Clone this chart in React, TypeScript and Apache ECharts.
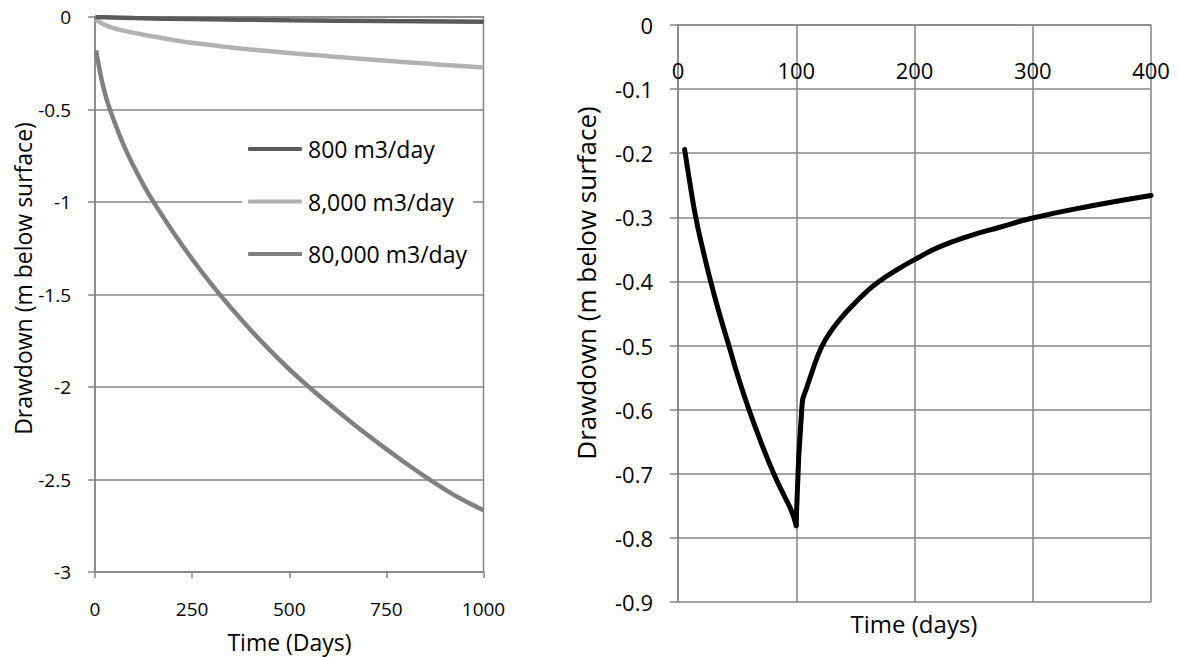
import React, { useEffect, useRef } from "react";
import * as echarts from "echarts";

// Left chart: drawdown vs time for three pumping rates
const leftSeriesNames = ["800 m3/day", "8,000 m3/day", "80,000 m3/day"];
const t800 = [1, 100, 250, 500, 750, 1000];
const d800 = [0, -0.006, -0.011, -0.017, -0.022, -0.026];
const t8000 = [1, 10, 20, 40, 60, 100, 150, 200, 270, 350, 500, 600, 700, 800, 900, 1000];
const d8000 = [-0.012, -0.025, -0.037, -0.055, -0.067, -0.086, -0.105, -0.124, -0.145, -0.165, -0.195, -0.212, -0.229, -0.244, -0.259, -0.273];
const t80000 = [3, 8, 13, 21, 30, 40, 50, 65, 80, 100, 125, 150, 200, 250, 300, 350, 400, 450, 500, 550, 600, 650, 700, 750, 800, 850, 900, 950, 1000];
const d80000 = [-0.18, -0.243, -0.298, -0.375, -0.445, -0.509, -0.567, -0.648, -0.722, -0.809, -0.909, -0.998, -1.159, -1.308, -1.445, -1.572, -1.69, -1.801, -1.904, -1.999, -2.088, -2.174, -2.257, -2.336, -2.412, -2.485, -2.553, -2.614, -2.666];

// Right chart: pumping for 100 days, then recovery
const tPumping = [5.6, 10, 15, 21, 27.6, 35, 43, 51, 60, 70, 81, 90, 96, 100];
const dPumping = [-0.194, -0.246, -0.3, -0.35, -0.4, -0.45, -0.5, -0.55, -0.6, -0.65, -0.7, -0.735, -0.758, -0.781];
const tRecovery = [100, 105, 109, 113, 117, 122, 130, 137, 150, 160, 170, 185, 200, 221, 250, 272, 300, 350, 400];
const dRecovery = [-0.781, -0.59, -0.565, -0.543, -0.522, -0.5, -0.476, -0.459, -0.433, -0.415, -0.4, -0.382, -0.366, -0.346, -0.327, -0.3155, -0.301, -0.282, -0.266];

const leftTitles = { x: "Time (Days)", y: "Drawdown (m below surface)" };
const rightTitles = { x: "Time (days)", y: "Drawdown (m below surface)" };

const pair = (xs: number[], ys: number[]) => xs.map((x, i) => [x, ys[i]]);

const GRAY = "#868686";
const FONT = "Open Sans";

export default function App() {
  const ref = useRef<HTMLDivElement>(null);
  useEffect(() => {
    if (!ref.current) return;
    const chart = echarts.init(ref.current, null, { renderer: "svg" });
    const lineColors = ["#5a5a5a", "#b2b2b2", "#808080"];
    const option: any = {
      animation: false,
      backgroundColor: "#fff",
      textStyle: { fontFamily: FONT, color: "#000" },
      grid: [
        { left: 95, top: 17, width: 388.5, height: 555, show: true, borderColor: GRAY, borderWidth: 1.5, backgroundColor: "transparent" },
        { left: 678, top: 25, width: 473, height: 577 },
      ],
      xAxis: [
        {
          gridIndex: 0, type: "value", min: 0, max: 1000, interval: 250,
          axisLine: { show: true, onZero: false, lineStyle: { color: GRAY, width: 1.5 } },
          axisTick: { show: true, length: 6, lineStyle: { color: GRAY, width: 1.5 } },
          axisLabel: { color: "#000", fontSize: 19, fontFamily: FONT, margin: 27, formatter: (v: number) => String(v) },
          splitLine: { show: false },
        },
        {
          gridIndex: 1, type: "value", min: 0, max: 400, interval: 100, position: "top",
          axisLine: { show: true, onZero: false, lineStyle: { color: GRAY, width: 1.5 } },
          axisTick: { show: false },
          axisLabel: { inside: true, color: "#000", fontSize: 22, fontFamily: FONT, margin: 34, formatter: (v: number) => String(v) },
          splitLine: { show: true, lineStyle: { color: GRAY, width: 1.5 } },
        },
      ],
      yAxis: [
        {
          gridIndex: 0, type: "value", min: -3, max: 0, interval: 0.5,
          axisLine: { show: true, onZero: false, lineStyle: { color: GRAY, width: 1.5 } },
          axisTick: { show: true, length: 7, lineStyle: { color: GRAY, width: 1.5 } },
          axisLabel: { color: "#000", fontSize: 19, fontFamily: FONT, margin: 24 },
          splitLine: { show: true, lineStyle: { color: GRAY, width: 1.5 } },
        },
        {
          gridIndex: 1, type: "value", min: -0.9, max: 0, interval: 0.1,
          axisLine: { show: true, onZero: false, lineStyle: { color: GRAY, width: 1.5 } },
          axisTick: { show: true, length: 8, lineStyle: { color: GRAY, width: 1.5 } },
          axisLabel: {
            color: "#000", fontSize: 22, fontFamily: FONT, margin: 25,
            formatter: (v: number) => (Math.abs(v) < 1e-9 ? "0" : v.toFixed(1)),
          },
          splitLine: { show: true, lineStyle: { color: GRAY, width: 1.5 } },
        },
      ],
      legend: {
        orient: "vertical",
        left: 242,
        top: 129,
        padding: 6,
        backgroundColor: "#fff",
        itemWidth: 54,
        itemHeight: 4,
        itemGap: 24.5,
        icon: "roundRect",
        selectedMode: false,
        data: leftSeriesNames,
        textStyle: { color: "#000", fontSize: 23, fontFamily: FONT, lineHeight: 28, padding: [0, 0, 0, 1] },
      },
      series: [
        {
          name: leftSeriesNames[2], type: "line", xAxisIndex: 0, yAxisIndex: 0,
          data: pair(t80000, d80000), showSymbol: false, smooth: 0.4,
          lineStyle: { color: lineColors[2], width: 4.5 }, itemStyle: { color: lineColors[2] }, z: 3,
        },
        {
          name: leftSeriesNames[1], type: "line", xAxisIndex: 0, yAxisIndex: 0,
          data: pair(t8000, d8000), showSymbol: false, smooth: 0.4,
          lineStyle: { color: lineColors[1], width: 4.5 }, itemStyle: { color: lineColors[1] }, z: 4,
        },
        {
          name: leftSeriesNames[0], type: "line", xAxisIndex: 0, yAxisIndex: 0,
          data: pair(t800, d800), showSymbol: false, smooth: 0.4,
          lineStyle: { color: lineColors[0], width: 4.5 }, itemStyle: { color: lineColors[0] }, z: 5,
        },
        {
          name: "Pumping", type: "line", xAxisIndex: 1, yAxisIndex: 1,
          data: pair(tPumping, dPumping), showSymbol: false, smooth: 0.5,
          lineStyle: { color: "#000", width: 5, cap: "round", join: "round" }, itemStyle: { color: "#000" }, z: 5,
        },
        {
          name: "Recovery", type: "line", xAxisIndex: 1, yAxisIndex: 1,
          data: pair(tRecovery, dRecovery), showSymbol: false, smooth: 0.5,
          lineStyle: { color: "#000", width: 5, cap: "round", join: "round" }, itemStyle: { color: "#000" }, z: 5,
        },
      ],
      graphic: [
        { type: "text", x: 23, y: 278.5, rotation: Math.PI / 2, style: { text: leftTitles.y, fontSize: 23, fontFamily: FONT, fill: "#000", align: "center", verticalAlign: "middle" } },
        { type: "text", x: 289.5, y: 642, style: { text: leftTitles.x, fontSize: 23, fontFamily: FONT, fill: "#000", align: "center", verticalAlign: "middle" } },
        { type: "text", x: 585.5, y: 283, rotation: Math.PI / 2, style: { text: rightTitles.y, fontSize: 26, fontFamily: FONT, fill: "#000", align: "center", verticalAlign: "middle" } },
        { type: "text", x: 914, y: 623, style: { text: rightTitles.x, fontSize: 24, fontFamily: FONT, fill: "#000", align: "center", verticalAlign: "middle" } },
      ],
    };
    chart.setOption(option);
    return () => chart.dispose();
  }, []);
  return <div ref={ref} style={{ position: "absolute", left: 0, top: 0, width: 1179, height: 657 }} />;
}
